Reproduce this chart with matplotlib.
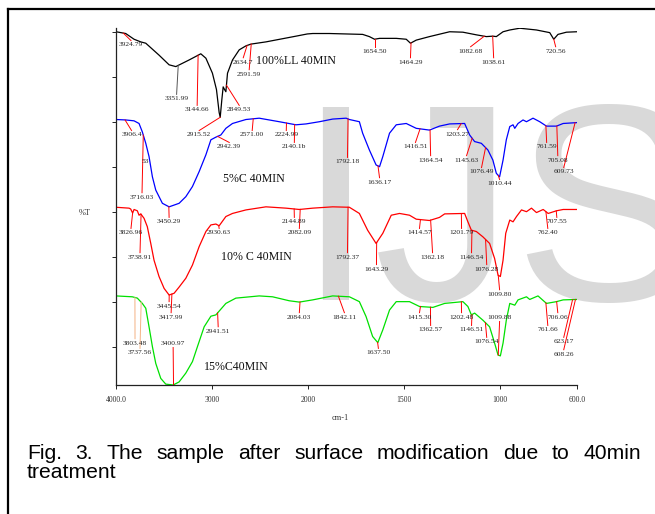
import matplotlib
matplotlib.use('Agg')
import matplotlib.pyplot as plt
from matplotlib.lines import Line2D
import numpy as np

W, H = 655, 514

# --- spectra (wavenumber cm-1, stacked %T in axis units) ---
black_wn = [4000, 3899, 3812, 3742, 3690, 3552, 3447, 3377, 3239, 3117, 3064, 2996, 2954, 2926,
            2915, 2898, 2884, 2870, 2856, 2839, 2787, 2717, 2647, 2595, 2439, 2126, 2008, 1976,
            1889, 1716, 1681, 1654, 1628, 1541, 1489, 1467, 1437, 1368, 1263, 1194, 1124, 1072,
            1038, 1020, 985, 950, 898, 811, 742, 721, 699, 655, 600]
black_t = [8.01, 7.97, 7.84, 7.78, 7.75, 7.48, 7.26, 7.22, 7.37, 7.51, 7.41, 7.07, 6.70, 6.18,
           6.07, 6.47, 6.76, 6.70, 6.65, 7.07, 7.37, 7.60, 7.69, 7.73, 7.78, 7.91, 7.96, 7.97,
           7.97, 7.95, 7.90, 7.84, 7.86, 7.86, 7.84, 7.75, 7.82, 7.90, 8.01, 8.00, 7.94, 7.90,
           7.91, 7.90, 8.01, 8.05, 8.09, 8.05, 7.99, 7.84, 7.95, 8.00, 8.01]

blue_wn = [4000, 3899, 3812, 3760, 3726, 3690, 3656, 3621, 3586, 3517, 3447, 3343, 3273, 3204,
           3134, 3064, 3012, 2960, 2908, 2856, 2787, 2647, 2509, 2300, 2126, 2021, 1941, 1872,
           1802, 1785, 1733, 1716, 1681, 1646, 1628, 1611, 1576, 1541, 1489, 1437, 1368, 1316,
           1263, 1185, 1159, 1133, 1098, 1064, 1038, 1020, 1003, 985, 968, 950, 933, 924, 907,
           881, 863, 829, 794, 759, 707, 672, 600]
blue_t = [6.02, 6.01, 5.99, 5.93, 5.74, 5.48, 5.18, 4.72, 4.42, 4.12, 4.04, 4.12, 4.27, 4.50,
          4.84, 5.22, 5.56, 5.62, 5.67, 5.82, 5.93, 6.02, 6.05, 5.97, 5.90, 5.92, 5.97, 6.03,
          6.05, 6.02, 5.97, 5.71, 5.33, 4.99, 4.95, 5.18, 5.71, 5.90, 5.93, 5.82, 5.78, 5.87,
          5.92, 5.93, 5.67, 5.52, 5.48, 5.33, 5.10, 4.80, 4.72, 5.10, 5.56, 5.86, 5.90, 5.82, 5.93,
          6.01, 5.97, 6.05, 5.97, 5.87, 5.87, 5.93, 5.95]

red_wn = [4000, 3864, 3847, 3827, 3812, 3778, 3760, 3742, 3708, 3674, 3638, 3604, 3552, 3499,
          3447, 3395, 3343, 3273, 3204, 3134, 3064, 3012, 2960, 2926, 2856, 2787, 2647, 2439,
          2230, 2091, 1976, 1872, 1785, 1733, 1690, 1646, 1611, 1567, 1524, 1472, 1437, 1368,
          1316, 1289, 1185, 1168, 1150, 1124, 1090, 1055, 1029, 1011, 999, 985, 971, 950, 933,
          915, 889, 863, 837, 811, 776, 750, 707, 672, 600]
red_t = [4.03, 4.01, 3.99, 3.90, 3.98, 3.95, 3.85, 3.88, 3.78, 3.59, 3.21, 2.83, 2.46, 2.19,
         2.04, 2.08, 2.22, 2.42, 2.72, 3.14, 3.48, 3.63, 3.65, 3.61, 3.82, 3.89, 3.97, 4.04,
         4.01, 3.98, 4.01, 4.04, 4.03, 3.89, 3.51, 3.21, 3.44, 3.85, 3.89, 3.85, 3.76, 3.73,
         3.80, 3.88, 3.89, 3.70, 3.51, 3.48, 3.36, 3.21, 2.87, 2.49, 2.46, 2.83, 3.44, 3.74, 3.70,
         3.82, 3.97, 3.93, 4.01, 3.91, 3.98, 3.89, 3.95, 3.98, 3.98]

green_wn = [4000, 3830, 3778, 3726, 3690, 3656, 3621, 3586, 3534, 3482, 3405, 3343, 3273, 3204,
            3152, 3082, 3012, 2960, 2856, 2752, 2509, 2370, 2196, 2091, 1976, 1872, 1785, 1733,
            1698, 1664, 1637, 1611, 1576, 1541, 1472, 1420, 1350, 1289, 1194, 1168, 1150, 1133,
            1090, 1055, 1029, 1011, 999, 985, 968, 950, 924, 907, 863, 846, 803, 759, 707, 672, 600]
green_t = [2.02, 2.00, 1.97, 1.85, 1.74, 1.32, 0.87, 0.49, 0.15, 0.02, 0.00, 0.07, 0.27, 0.53,
           0.87, 1.32, 1.56, 1.59, 1.85, 1.97, 2.02, 2.00, 1.91, 1.88, 1.93, 2.02, 2.00, 1.89,
           1.55, 1.10, 0.96, 1.25, 1.70, 1.89, 1.89, 1.78, 1.76, 1.85, 1.89, 1.78, 1.59, 1.63,
           1.47, 1.32, 0.95, 0.68, 0.66, 0.95, 1.47, 1.85, 1.81, 1.93, 2.00, 1.94, 2.02, 1.85,
           1.89, 1.93, 1.94]

# peak labels: (text, peak wavenumber, label x wavenumber, label y)
black_peaks = [("3924.79", 3924, 3844, 7.71), ("3351.99", 3352, 3369, 6.49),
               ("3144.66", 3145, 3155, 6.24), ("2915.52", 2915, 3134, 5.67),
               ("2849.53", 2850, 2717, 6.24), ("2634.7", 2635, 2675, 7.32),
               ("2591.59", 2592, 2613, 7.05), ("1654.50", 1654, 1654, 7.57),
               ("1464.29", 1464, 1467, 7.32), ("1082.68", 1083, 1154, 7.57),
               ("1038.61", 1039, 1034, 7.32), ("720.56", 721, 711, 7.57)]
blue_peaks = [("3906.4", 3906, 3838, 5.67), ("3716.03", 3716, 3729, 4.26),
              ("3450.29", 3450, 3447, 3.70), ("2942.39", 2942, 2821, 5.40),
              ("2571.00", 2571, 2582, 5.67), ("2224.99", 2225, 2227, 5.67),
              ("2140.1b", 2140, 2143, 5.40), ("1792.18", 1792, 1795, 5.06),
              ("1636.17", 1636, 1628, 4.60), ("1416.51", 1417, 1441, 5.40),
              ("1364.54", 1365, 1362, 5.10), ("1203.27", 1203, 1222, 5.69),
              ("1145.63", 1146, 1175, 5.10), ("1076.49", 1076, 1097, 4.83),
              ("1010.44", 1010, 1003, 4.56), ("761.59", 762, 758, 5.40),
              ("705.08", 705, 700, 5.10), ("609.73", 610, 669, 4.83)]
red_peaks = [("3826.96", 3827, 3844, 3.45), ("3738.91", 3739, 3750, 2.90),
             ("3445.54", 3446, 3447, 1.79), ("3417.99", 3418, 3426, 1.54),
             ("2930.63", 2931, 2926, 3.45), ("2144.89", 2145, 2143, 3.70),
             ("2082.09", 2082, 2091, 3.45), ("1792.37", 1792, 1795, 2.90),
             ("1643.29", 1643, 1644, 2.63), ("1414.57", 1415, 1420, 3.45),
             ("1362.18", 1362, 1352, 2.90), ("1201.79", 1202, 1201, 3.45),
             ("1146.54", 1147, 1149, 2.90), ("1076.28", 1076, 1070, 2.63),
             ("1009.80", 1010, 1003, 2.06), ("707.55", 708, 705, 3.70),
             ("762.40", 762, 752, 3.45)]
green_peaks = [("3803.48", 3803, 3802, 0.95), ("3737.56", 3738, 3750, 0.73),
               ("3400.97", 3401, 3405, 0.95), ("2941.51", 2942, 2936, 1.22),
               ("2084.03", 2084, 2091, 1.54), ("1842.11", 1842, 1811, 1.54),
               ("1637.50", 1638, 1634, 0.73), ("1415.30", 1415, 1420, 1.54),
               ("1362.57", 1363, 1362, 1.25), ("1202.48", 1202, 1201, 1.54),
               ("1146.51", 1147, 1149, 1.25), ("1076.54", 1077, 1070, 0.98),
               ("1009.88", 1010, 1003, 1.54), ("761.66", 762, 752, 1.25),
               ("706.06", 706, 700, 1.54), ("623.17", 623, 669, 0.98),
               ("608.26", 608, 669, 0.70)]

# sample names: (text, x wavenumber, y, alignment)
names = [("100%LL 40MIN", 2540, 7.35, 'left'), ("5%C 40MIN", 2561, 4.67, 'center'),
         ("10% C 40MIN", 2540, 2.90, 'center'), ("15%C40MIN", 2748, 0.41, 'center')]

xticks = [4000, 3000, 2000, 1500, 1000, 600]
xtick_labels = ["4000.0", "3000", "2000", "1500", "1000", "600.0"]

leader_colors = {"3351.99": "#555555", "3803.48": "#f4b183", "3737.56": "#f4b183"}


def fwd(x):
    x = np.asarray(x, dtype=float)
    return np.where(x >= 2000, x, 2000 + (x - 2000) * 2)


def inv(y):
    y = np.asarray(y, dtype=float)
    return np.where(y >= 2000, y, 2000 + (y - 2000) / 2)


fig = plt.figure(figsize=(W / 100, H / 100), dpi=100)
ax = fig.add_axes([116 / W, 1 - 385 / H, (577 - 116) / W, (385 - 28) / H])
ax.set_xscale('function', functions=(fwd, inv))
ax.set_xlim(4000, 600)
ax.set_ylim(0, 8.095)

# watermark
ax.text(296 / W, 1 - 300 / H, "IJS", transform=fig.transFigure, fontsize=202,
        family='Liberation Sans', color='#d9d9d9', ha='left', va='baseline',
        zorder=0.5, clip_on=False)

serif = 'Liberation Serif'
traces = [(black_wn, black_t, 'black', black_peaks),
          (blue_wn, blue_t, '#0000ff', blue_peaks),
          (red_wn, red_t, '#ff0000', red_peaks),
          (green_wn, green_t, '#00e000', green_peaks)]

for wn, t, col, peaks in traces:
    ax.plot(wn, t, color=col, lw=0.9, zorder=2)
    for txt, pk, lx, ly in peaks:
        cy = np.interp(pk, wn[::-1], t[::-1])
        end = ly + 0.1 if ly < cy else ly - 0.1
        ax.plot([pk, lx], [cy, end], color=leader_colors.get(txt, '#ff0000'), lw=0.7, zorder=2.2)
        ax.text(lx, ly, txt, fontsize=5.4, family=serif, ha='center', va='center',
                color='#222222', zorder=3)

ax.text(3698, 5.06, "53", fontsize=5.4, family=serif, ha='center', va='center', color='#222222')

for txt, x, y, ha in names:
    ax.text(x, y, txt, fontsize=8.6, family=serif, ha=ha, va='center', color='#111111', zorder=3)

for s in ['top', 'right']:
    ax.spines[s].set_visible(False)
for s in ['left', 'bottom']:
    ax.spines[s].set_linewidth(0.9)
    ax.spines[s].set_color('#222222')

ax.set_xticks(xticks)
ax.set_xticklabels(xtick_labels, family=serif, fontsize=5.6, color='#333333')
ax.set_yticks(np.linspace(0.86, 8.0, 8))
ax.set_yticklabels([])
ax.tick_params(axis='both', direction='out', length=3, width=0.7, color='#222222', pad=5)
ax.minorticks_off()

fig.text(85 / W, 1 - 213 / H, "%T", family=serif, fontsize=6, ha='center', va='center', color='#333333')
fig.text(340 / W, 1 - 418 / H, "cm-1", family=serif, fontsize=6, ha='center', va='center', color='#333333')

# border
fig.add_artist(Line2D([7.5 / W, 7.5 / W], [0, 1 - 9 / H], color='black', lw=1.6))
fig.add_artist(Line2D([7.5 / W, 1], [1 - 9 / H, 1 - 9 / H], color='black', lw=1.6))

# justified caption
caption1 = "Fig. 3. The sample after surface modification due to 40min".split()
caption2 = "treatment"
left_px, right_px = 27, 641
renderer = fig.canvas.get_renderer()
words = [fig.text(0, 1 - 459 / H, w, family='Liberation Sans', fontsize=15.2, va='baseline')
         for w in caption1]
widths = [w.get_window_extent(renderer).width for w in words]
gap = (right_px - left_px - sum(widths)) / (len(words) - 1)
x = left_px
for w, wd in zip(words, widths):
    w.set_x(x / W)
    x += wd + gap
fig.text(left_px / W, 1 - 478 / H, caption2, family='Liberation Sans', fontsize=15.2, va='baseline')

fig.savefig('out.png', dpi=100)
